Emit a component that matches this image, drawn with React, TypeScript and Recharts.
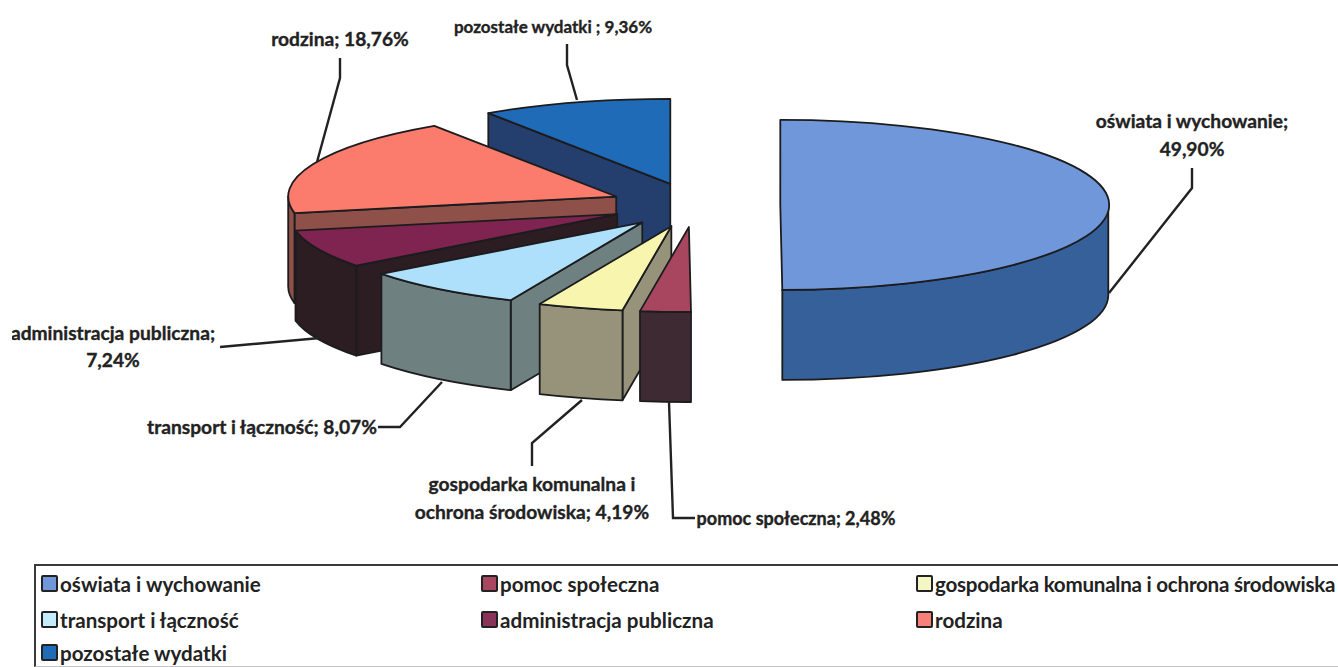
import { PieChart, Pie, Legend } from 'recharts';

// legend order, clockwise from 12 o'clock
const categories = [
  'oświata i wychowanie',
  'pomoc społeczna',
  'gospodarka komunalna i ochrona środowiska',
  'transport i łączność',
  'administracja publiczna',
  'rodzina',
  'pozostałe wydatki',
];
const shares = [49.9, 2.48, 4.19, 8.07, 7.24, 18.76, 9.36];
const labelLines = [
  ['oświata i wychowanie;', '49,90%'],
  ['pomoc społeczna; 2,48%'],
  ['gospodarka komunalna i', 'ochrona środowiska; 4,19%'],
  ['transport i łączność; 8,07%'],
  ['administracja publiczna;', '7,24%'],
  ['rodzina; 18,76%'],
  ['pozostałe wydatki ; 9,36%'],
];

const TOP_COLORS = ['#6f97d9', '#a8465f', '#f8f6ae', '#aee0fb', '#7f2450', '#fb7b6c', '#1f6bb7'];
const SIDE_COLORS = ['#35609a', '#3e2a33', '#96937a', '#6f8080', '#2b1d21', '#8f5049', '#243f6e'];
const LEGEND_COLORS = ['#6f97d9', '#a8465f', '#f4f7c4', '#c4ecf8', '#8a3358', '#f8807a', '#1f6bb7'];

// label anchors and leader lines
const LABEL_POS = [
  { x: 1192, ys: [122, 150], size: 19.2 },
  { x: 796, ys: [519], size: 18 },
  { x: 532, ys: [485, 513], size: 19.2 },
  { x: 262, ys: [428], size: 19.2 },
  { x: 113, ys: [334, 361], size: 19.2 },
  { x: 340, ys: [40], size: 19.2 },
  { x: 553, ys: [27], size: 17 },
];
const LEADERS = [
  '1109,293 1192,188 1192,168',
  '669,402 673,518 695,518',
  '582,400 532,443 532,466',
  '442,382 400,427 378,427',
  '320,338 220,347',
  '317,162 340,78 340,58',
  '577,100 567,65 567,44',
];

const pieData = categories
  .map((name, i) => ({ name, value: shares[i], fill: TOP_COLORS[i], side: SIDE_COLORS[i], idx: i }))
  .reverse(); // painted back to front, so it runs anticlockwise from the top

const RY_RATIO = 85 / 328;
const DEPTH = 90;
const EXPLODE = 0.26;
const INK = '#1c1c1e';
const FONT = 'Lato, sans-serif';

const rad = (d: number) => (d * Math.PI) / 180;

function Slice3D(props: any) {
  const { cx, cy, outerRadius, startAngle, endAngle, fill, side } = props;
  const rx = outerRadius;
  const ry = outerRadius * RY_RATIO;
  // clockwise-from-top angles
  const a = 90 - startAngle;
  const b = 90 - endAngle;
  const t1 = ((Math.min(a, b) % 360) + 360) % 360;
  const t2 = t1 + Math.abs(a - b);
  const mid = (t1 + t2) / 2;
  const ax = cx + EXPLODE * rx * Math.sin(rad(mid));
  const ay = cy - EXPLODE * ry * Math.cos(rad(mid));
  const at = (t: number, drop = 0) => {
    const x = ax + rx * Math.sin(rad(t));
    const y = ay - ry * Math.cos(rad(t)) + drop;
    return `${x.toFixed(1)} ${y.toFixed(1)}`;
  };
  const edgeWall = (t: number) =>
    `M${ax} ${ay}L${at(t)}L${at(t, DEPTH)}L${ax} ${ay + DEPTH}Z`;
  const large = t2 - t1 > 180 ? 1 : 0;
  const rimFrom = Math.max(t1, 90);
  const rimTo = Math.min(t2, 270);
  return (
    <g stroke={INK} strokeWidth={1.8} strokeLinejoin="round">
      {Math.sin(rad(t1)) < -0.01 && <path d={edgeWall(t1)} fill={side} />}
      {Math.sin(rad(t2)) > 0.01 && <path d={edgeWall(t2)} fill={side} />}
      {rimTo > rimFrom && (
        <path
          d={`M${at(rimFrom)}A${rx} ${ry} 0 0 1 ${at(rimTo)}L${at(rimTo, DEPTH)}A${rx} ${ry} 0 0 0 ${at(rimFrom, DEPTH)}Z`}
          fill={side}
        />
      )}
      <path d={`M${ax} ${ay}L${at(t1)}A${rx} ${ry} 0 ${large} 1 ${at(t2)}Z`} fill={fill} />
    </g>
  );
}

function SliceLabel(props: any) {
  const i = props.idx ?? props.payload?.idx;
  const pos = LABEL_POS[i];
  return (
    <text
      textAnchor="middle"
      fontFamily={FONT}
      fontWeight={700}
      fontSize={pos.size}
      fill="#222"
      stroke="#222"
      strokeWidth={0.35}
      clipPath="url(#pageEdge)"
    >
      {labelLines[i].map((line, k) => (
        <tspan key={k} x={pos.x} y={pos.ys[k] + 6}>
          {line}
        </tspan>
      ))}
    </text>
  );
}

function LeaderLine(props: any) {
  const i = props.idx ?? props.payload?.idx;
  return <polyline points={LEADERS[i]} fill="none" stroke="#222" strokeWidth={2.4} />;
}

const LEGEND_X = [41, 481, 916];
const LEGEND_Y = [584, 620, 653];

function LegendBox({ payload }: any) {
  const items = [...(payload ?? [])].sort(
    (p: any, q: any) => categories.indexOf(p.value) - categories.indexOf(q.value),
  );
  return (
    <div style={{ position: 'absolute', left: 0, top: 0, width: 1338, height: 667, pointerEvents: 'none' }}>
      <div
        style={{
          position: 'absolute',
          left: 34,
          top: 564,
          width: 1340,
          height: 103,
          borderTop: '2px solid #3a3a3a',
          borderLeft: '2px solid #3a3a3a',
          borderBottom: '1px solid #c4c4c4',
          boxSizing: 'border-box',
        }}
      />
      {items.map((item: any, i: number) => {
        const left = LEGEND_X[i % 3];
        const top = LEGEND_Y[Math.floor(i / 3)];
        return (
          <div key={item.value} style={{ position: 'absolute', left, top: top - 12, height: 24, whiteSpace: 'nowrap' }}>
            <span
              style={{
                position: 'absolute',
                left: 0,
                top: 3,
                width: 13,
                height: 13,
                background: LEGEND_COLORS[categories.indexOf(item.value)],
                border: '2px solid #222',
                borderRadius: 2,
              }}
            />
            <span
              style={{
                position: 'absolute',
                left: 19,
                top: 0,
                fontFamily: FONT,
                fontWeight: 700,
                fontSize: 20.6,
                letterSpacing: i === 2 ? -0.25 : 0,
                lineHeight: '24px',
                color: '#222',
              }}
            >
              {item.value}
            </span>
          </div>
        );
      })}
    </div>
  );
}

export default function App() {
  return (
    <div style={{ position: 'absolute', left: 0, top: 0, width: 1338, height: 667, overflow: 'hidden', background: '#fff' }}>
      <PieChart width={1338} height={667} margin={{ top: 0, right: 0, bottom: 0, left: 0 }}>
        <defs>
          <clipPath id="pageEdge" clipPathUnits="userSpaceOnUse">
            <rect x={12} y={0} width={1326} height={667} />
          </clipPath>
        </defs>
        <Pie
          data={pieData}
          dataKey="value"
          nameKey="name"
          cx={695}
          cy={205}
          outerRadius={328}
          startAngle={90}
          endAngle={450}
          stroke="none"
          shape={Slice3D}
          label={SliceLabel}
          labelLine={LeaderLine}
          isAnimationActive={false}
        />
        <Legend content={LegendBox} wrapperStyle={{ left: 0, top: 0, width: 1338, height: 667 }} />
      </PieChart>
    </div>
  );
}
